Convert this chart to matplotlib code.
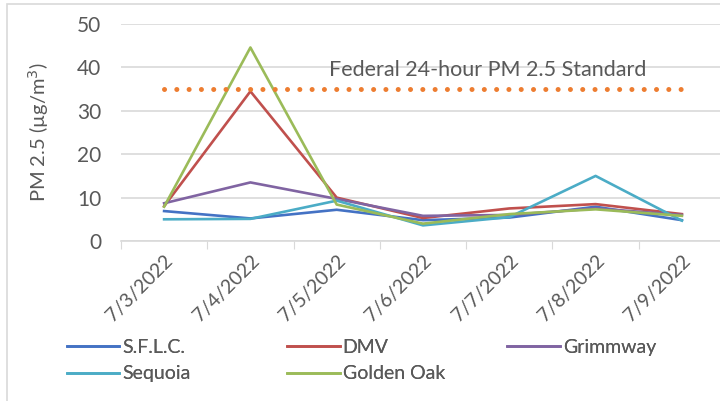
import matplotlib
matplotlib.use("Agg")
import matplotlib.pyplot as plt
from matplotlib.patches import Rectangle

dates = ["7/3/2022", "7/4/2022", "7/5/2022", "7/6/2022", "7/7/2022", "7/8/2022", "7/9/2022"]
sflc = [6.9, 5.2, 7.2, 4.8, 5.4, 7.9, 4.8]
dmv = [8.0, 34.5, 10.0, 5.3, 7.5, 8.5, 6.2]
grimmway = [8.7, 13.5, 9.7, 5.8, 6.0, 7.5, 6.0]
sequoia = [5.0, 5.1, 9.3, 3.6, 5.5, 15.0, 4.7]
golden_oak = [7.9, 44.6, 8.4, 4.0, 6.2, 7.3, 5.8]
standard = 35
standard_label = "Federal 24-hour PM 2.5 Standard"

plt.rcParams["font.family"] = ["Lato", "DejaVu Sans"]

fig = plt.figure(figsize=(7.2, 4.01), dpi=100)
fig.patches.append(Rectangle((0.01, -0.1), 1.2, 1.09, transform=fig.transFigure,
                             fill=False, edgecolor="#D9D9D9", lw=1.2))
ax = fig.add_axes([0.168, 0.399, 0.839, 0.541])

x = list(range(len(dates)))
series = [
    ("S.F.L.C.", sflc, "#4472C4"),
    ("DMV", dmv, "#C0504D"),
    ("Grimmway", grimmway, "#8064A2"),
    ("Sequoia", sequoia, "#4BACC6"),
    ("Golden Oak", golden_oak, "#9BBB59"),
]
handles = {}
for name, vals, col in series:
    h, = ax.plot(x, vals, color=col, lw=1.9, label=name)
    handles[name] = h

ax.plot([x[0], x[-1]], [standard, standard], color="#ED7D31", lw=3.6,
        ls=(0, (0.01, 2.45)), dash_capstyle="round")
ax.text(3.75, 39.4, standard_label, fontsize=15.5, color="#595959", va="center", ha="center")

ax.set_xlim(-0.5, len(dates) - 0.5)
ax.set_ylim(0, 50)
ax.set_yticks(range(0, 51, 10))
ax.set_xticks([i - 0.5 for i in range(len(dates) + 1)], minor=False)
ax.set_xticklabels([])
ax.set_xticks(x, minor=True)
ax.set_xticklabels(dates, minor=True, rotation=45, ha="right", rotation_mode="anchor",
                   fontsize=14, color="#595959")
ax.tick_params(axis="x", which="minor", length=0, pad=8)
ax.tick_params(axis="x", which="major", length=6, color="#D9D9D9")
ax.tick_params(axis="y", length=0, labelsize=15, labelcolor="#595959", pad=14)
ax.grid(axis="y", color="#D9D9D9", lw=1.2)
ax.set_axisbelow(True)
for s in ["top", "right", "left"]:
    ax.spines[s].set_visible(False)
ax.spines["bottom"].set_color("#D9D9D9")
ax.spines["bottom"].set_linewidth(1.2)
ax.set_ylabel("PM 2.5 (µg/m$^3$)", fontsize=14.5, color="#595959", labelpad=19)

# one legend per column so each column sits where the original has it
columns = [(["S.F.L.C.", "Sequoia"], 0.082), (["DMV", "Golden Oak"], 0.388),
           (["Grimmway"], 0.694)]
for names, x0 in columns:
    leg = fig.legend([handles[n] for n in names], names, frameon=False,
                     loc="upper left", bbox_to_anchor=(x0, 0.175), fontsize=14,
                     labelcolor="#595959", handlelength=2.7, handletextpad=0.15,
                     labelspacing=0.5, borderaxespad=0)
    fig.add_artist(leg)

fig.savefig("out.png", dpi=100)
